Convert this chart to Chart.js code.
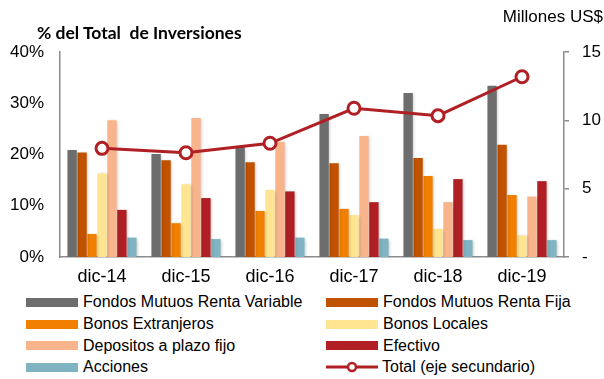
<!DOCTYPE html>
<html>
<head>
<meta charset="utf-8">
<script src="https://cdn.jsdelivr.net/npm/chart.js@4/dist/chart.umd.min.js"></script>
<style>
  html, body { margin: 0; padding: 0; background: #fff; }
  #wrap { position: relative; width: 604px; height: 379px; overflow: hidden; font-family: "Liberation Sans", Arial, sans-serif; }
  #box { position: absolute; left: 0; top: 0; width: 604px; height: 290px; }
  .title { position: absolute; left: 37px; top: 23px; font: bold 17.5px Lato, "Liberation Sans", sans-serif; white-space: pre; color: #000; line-height: 20px; }
  .unit { position: absolute; right: 1px; top: 7px; font-size: 17px; color: #000; line-height: 20px; }
  .item { position: absolute; height: 20px; display: flex; align-items: center; font-size: 16px; color: #000; white-space: nowrap; }
  .sw { width: 52px; height: 9px; margin-right: 5px; flex: none; }
  .swl { width: 52px; height: 14px; margin-right: 4px; flex: none; }
</style>
</head>
<body>
<div id="wrap">
  <div id="box"><canvas id="c" width="604" height="290"></canvas></div>
  <div class="title">% del Total  de Inversiones</div>
  <div class="unit">Millones US$</div>
  <div id="legend"></div>
</div>
<script>
// Year-end portfolio composition (% of total) and total amount (US$ millions)
const categories = ['dic-14', 'dic-15', 'dic-16', 'dic-17', 'dic-18', 'dic-19'];
const fondosRentaVariable = [20.9, 20.1, 21.5, 27.9, 32.0, 33.4];
const fondosRentaFija     = [20.4, 18.9, 18.5, 18.3, 19.3, 21.9];
const bonosExtranjeros    = [4.5, 6.6, 9.0, 9.4, 15.8, 12.1];
const bonosLocales        = [16.3, 14.2, 13.1, 8.2, 5.5, 4.2];
const depositosPlazoFijo  = [26.7, 27.1, 22.5, 23.6, 10.7, 11.8];
const efectivo            = [9.2, 11.5, 12.8, 10.7, 15.2, 14.8];
const acciones            = [3.8, 3.5, 3.8, 3.6, 3.3, 3.3];
const totalMillones       = [7.95, 7.63, 8.32, 10.88, 10.34, 13.19];

const leftTicks = [0, 10, 20, 30, 40];
const rightTicks = [0, 5, 10, 15];

const lineColor = '#b01f24';

const barSeries = [
  ['Fondos Mutuos Renta Variable', fondosRentaVariable, '#6d6d6d'],
  ['Fondos Mutuos Renta Fija', fondosRentaFija, '#c05200'],
  ['Bonos Extranjeros', bonosExtranjeros, '#f28000'],
  ['Bonos Locales', bonosLocales, '#ffe591'],
  ['Depositos a plazo fijo', depositosPlazoFijo, '#f8b58b'],
  ['Efectivo', efectivo, '#b01f24'],
  ['Acciones', acciones, '#80b4c3']
];

const datasets = barSeries.map(([label, data, color]) => ({
  type: 'bar',
  label, data,
  backgroundColor: color,
  borderWidth: 0,
  yAxisID: 'y',
  order: 2,
  barPercentage: 0.94,
  categoryPercentage: 0.83
}));

datasets.push({
  type: 'line',
  label: 'Total (eje secundario)',
  data: totalMillones,
  yAxisID: 'y1',
  order: 0,
  borderColor: lineColor,
  borderWidth: 3,
  tension: 0,
  pointRadius: 6,
  pointBorderWidth: 3,
  pointBackgroundColor: '#fff',
  pointBorderColor: lineColor
});

// Soft drop shadow behind the bar series
const barShadow = {
  id: 'barShadow',
  beforeDatasetDraw(chart, args) {
    if (chart.data.datasets[args.index].type !== 'bar') return;
    const ctx = chart.ctx;
    ctx.save();
    ctx.shadowColor = 'rgba(0,0,0,0.22)';
    ctx.shadowBlur = 3;
    ctx.shadowOffsetX = 1.5;
    ctx.shadowOffsetY = 1;
  },
  afterDatasetDraw(chart, args) {
    if (chart.data.datasets[args.index].type !== 'bar') return;
    chart.ctx.restore();
  }
};

Chart.defaults.font.family = '"Liberation Sans", Arial, sans-serif';
Chart.defaults.color = '#000';

const chart = new Chart(document.getElementById('c'), {
  data: { labels: categories, datasets },
  plugins: [barShadow],
  options: {
    responsive: false,
    animation: false,
    devicePixelRatio: 1,
    layout: { padding: { top: 52, left: 0, right: 0, bottom: 0 } },
    plugins: { legend: { display: false }, tooltip: { enabled: false } },
    scales: {
      x: {
        grid: { display: false, drawTicks: false },
        border: { display: true, color: '#8c8c8c', width: 1.5 },
        ticks: { font: { size: 18 }, padding: 9, maxRotation: 0 },
        afterFit: s => { s.height = 33; }
      },
      y: {
        position: 'left',
        min: 0, max: 40,
        afterBuildTicks: s => { s.ticks = leftTicks.map(v => ({ value: v })); },
        grid: { display: false, drawTicks: false },
        border: { display: true, color: '#8c8c8c', width: 1.5 },
        ticks: { font: { size: 17 }, padding: 16, callback: v => v + '%' },
        afterFit: s => { s.width = 60; }
      },
      y1: {
        position: 'right',
        min: 0, max: 15,
        afterBuildTicks: s => { s.ticks = rightTicks.map(v => ({ value: v })); },
        grid: { display: true, drawOnChartArea: false, drawTicks: true, tickLength: 5, color: '#8c8c8c', lineWidth: 1.5 },
        border: { display: true, color: '#8c8c8c', width: 1.5 },
        ticks: { font: { size: 17 }, padding: 13, callback: v => v === 0 ? '-' : String(v) },
        afterFit: s => { s.width = 40; }
      }
    }
  }
});

// Two-column legend built from the chart's datasets
const legend = document.getElementById('legend');
const rowTops = [292, 314, 335.5, 357];
chart.data.datasets.forEach((ds, i) => {
  const col = i % 2, row = Math.floor(i / 2);
  const item = document.createElement('div');
  item.className = 'item';
  item.style.left = (col === 0 ? 26 : 326) + 'px';
  item.style.top = rowTops[row] + 'px';
  if (ds.type === 'line') {
    item.innerHTML = '<svg class="swl" width="52" height="14" viewBox="0 0 52 14">' +
      '<line x1="0" y1="7" x2="52" y2="7" stroke="' + lineColor + '" stroke-width="3"/>' +
      '<circle cx="26" cy="7" r="4" fill="#fff" stroke="' + lineColor + '" stroke-width="2.5"/></svg>';
  } else {
    item.innerHTML = '<span class="sw" style="background:' + ds.backgroundColor + '"></span>';
  }
  const t = document.createElement('span');
  t.textContent = ds.label;
  item.appendChild(t);
  legend.appendChild(item);
});
</script>
</body>
</html>
